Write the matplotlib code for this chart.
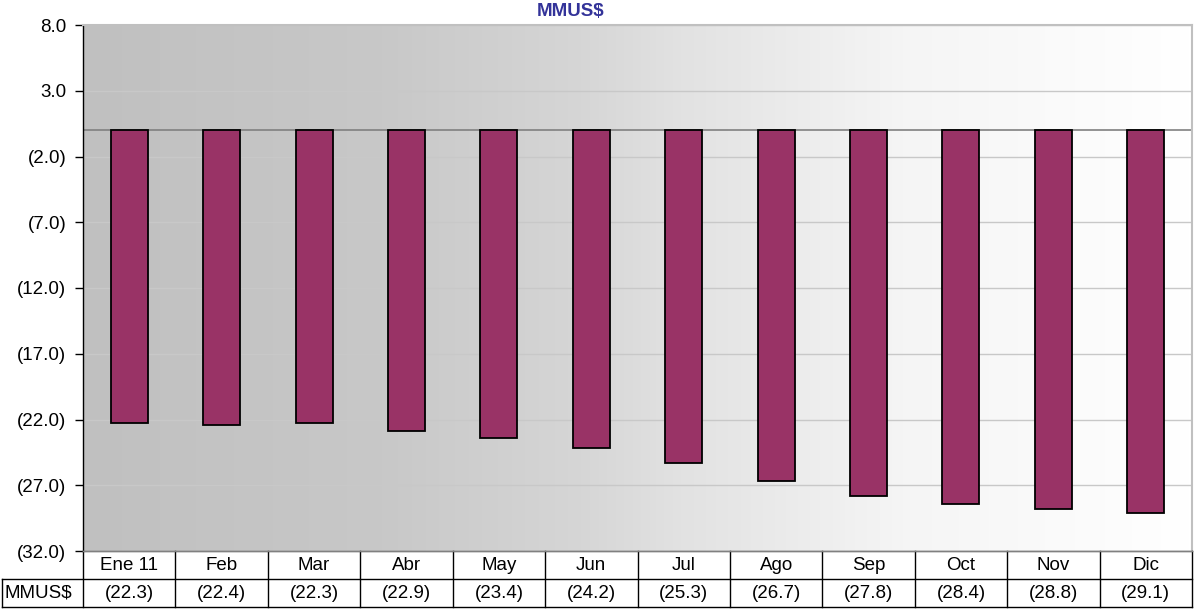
import numpy as np
import matplotlib
matplotlib.use("Agg")
import matplotlib.pyplot as plt
from matplotlib.colors import LinearSegmentedColormap

plt.rcParams['font.family'] = ['Liberation Sans', 'DejaVu Sans']

months = ["Ene 11", "Feb", "Mar", "Abr", "May", "Jun", "Jul", "Ago", "Sep", "Oct", "Nov", "Dic"]
values = [-22.3, -22.4, -22.3, -22.9, -23.4, -24.2, -25.3, -26.7, -27.8, -28.4, -28.8, -29.1]
series_name = "MMUS$"
yticks = [8, 3, -2, -7, -12, -17, -22, -27, -32]

W, H = 1194, 610
FS = 13.5
fig = plt.figure(figsize=(W / 100, H / 100), dpi=100)

def px_axes(x0, y0, x1, y1):
    return [x0 / W, 1 - y1 / H, (x1 - x0) / W, (y1 - y0) / H]

ax = fig.add_axes(px_axes(83, 25, 1192, 551))
n = len(months)
x = np.arange(n)
ax.set_xlim(-0.5, n - 0.5)
ax.set_ylim(-32, 8)

# gradient background
cmap = LinearSegmentedColormap.from_list(
    "bg",
    [(0.0, (192/255,)*3), (0.27, (200/255,)*3), (0.45, (214/255,)*3),
     (0.54, (226/255,)*3), (0.74, (245/255,)*3), (1.0, (1.0,)*3)])
grad = np.linspace(0, 1, 512).reshape(1, -1)
ax.imshow(grad, aspect='auto', cmap=cmap, extent=(-0.5, n - 0.5, -32, 8),
          zorder=0, interpolation='bilinear')

for t in yticks:
    ax.axhline(t, color='#c8c8c8', lw=1, zorder=1)
ax.axhline(0, color='#808080', lw=1.2, zorder=2)

ax.bar(x, values, width=0.4, color='#993366', edgecolor='black', linewidth=1.3, zorder=3)

def fmt(v):
    return f"({abs(v):.1f})" if v < 0 else f"{v:.1f}"

ax.set_yticks(yticks)
ax.set_yticklabels([fmt(t) for t in yticks], fontsize=FS)
ax.set_xticks([])
ax.tick_params(axis='y', direction='out', length=6, width=1, color='black', pad=6)
ax.spines['left'].set_color('black')
ax.spines['left'].set_linewidth(1)
for s in ['top', 'right']:
    ax.spines[s].set_color('#c0c0c0')
    ax.spines[s].set_linewidth(1.5)
ax.spines['bottom'].set_color('#808080')
ax.spines['bottom'].set_linewidth(1)

fig.text(571 / W, 1 - 12 / H, series_name, ha='center', va='center',
         fontsize=FS, fontweight='bold', color='#333399')

# data table below plot
tax = fig.add_axes(px_axes(2, 551, 1192, 607))
lab_w = 81 / ((1192 - 83) / n)
x0 = -0.5 - lab_w
tax.set_xlim(x0, n - 0.5)
tax.set_ylim(0, 2)
tax.axis('off')
lc = 'black'
for k in range(n + 1):
    tax.plot([k - 0.5, k - 0.5], [0, 2], color=lc, lw=1, clip_on=False)
tax.plot([x0, x0], [0, 1], color=lc, lw=1, clip_on=False)
tax.plot([x0, n - 0.5], [0, 0], color=lc, lw=1, clip_on=False)
tax.plot([x0, n - 0.5], [1, 1], color=lc, lw=1, clip_on=False)
tax.plot([-0.5, n - 0.5], [2, 2], color='#808080', lw=1, clip_on=False)
for i, (m, v) in enumerate(zip(months, values)):
    tax.text(i, 1.5, m, ha='center', va='center', fontsize=FS)
    tax.text(i, 0.5, fmt(v), ha='center', va='center', fontsize=FS)
tax.text(x0 + 0.03, 0.5, series_name, ha='left', va='center', fontsize=FS)

fig.savefig("out.png", dpi=100)
